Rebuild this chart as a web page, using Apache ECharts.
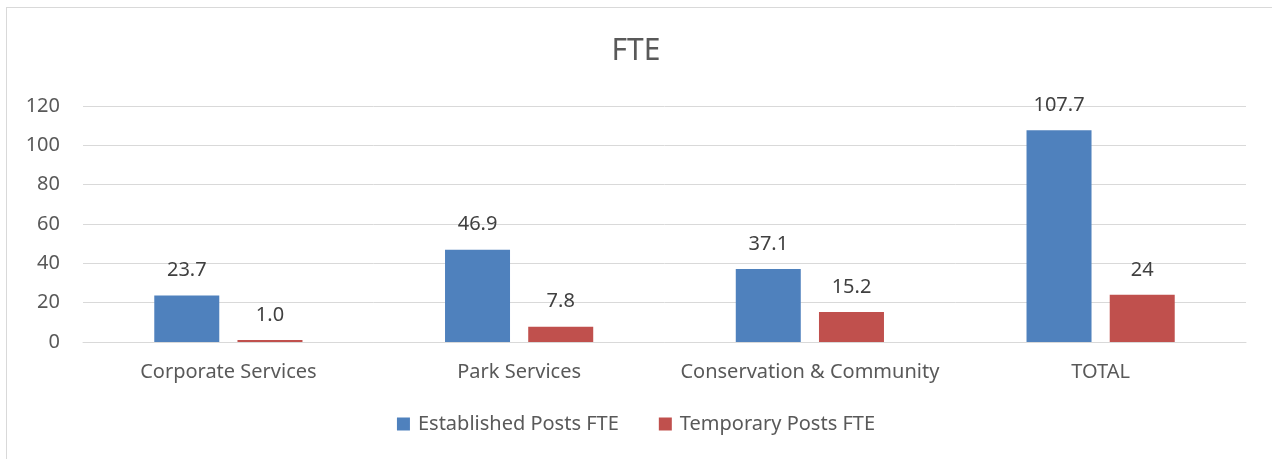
<!DOCTYPE html>
<html lang="en">
<head>
    <meta charset="UTF-8">
    <title>FTE</title>
    <script src="https://cdn.jsdelivr.net/npm/echarts@6/dist/echarts.min.js"></script>
    <style>
        html, body { margin: 0; padding: 0; background: #fff; }
        #frame { position: absolute; left: 6px; top: 7px; width: 1300px; height: 500px; border: 1px solid #d9d9d9; }
        #main { position: absolute; left: 0; top: 0; width: 1272px; height: 459px; }
    </style>
</head>
<body>
<div id="frame"></div>
<div id="main"></div>
<script type="text/javascript">
    const categories = ['Corporate Services', 'Park Services', 'Conservation & Community', 'TOTAL']
    const established = [23.7, 46.9, 37.1, 107.7]
    const temporary = [1.0, 7.8, 15.2, 24]
    const establishedLabels = ['23.7', '46.9', '37.1', '107.7']
    const temporaryLabels = ['1.0', '7.8', '15.2', '24']

    const font = 'Noto Sans'
    const textColor = '#595959'

    let chart = echarts.init(document.getElementById('main'))

    function labelOf(list) {
        return {
            show: true,
            position: 'top',
            distance: 15,
            color: '#404040',
            fontFamily: font,
            fontSize: 20,
            formatter: p => list[p.dataIndex]
        }
    }

    chart.setOption({
        animation: false,
        title: {
            text: 'FTE',
            left: 'center',
            top: 31,
            textStyle: { fontFamily: font, fontSize: 30, fontWeight: 'normal', color: textColor }
        },
        legend: {
            bottom: 20,
            left: 'center',
            itemWidth: 13,
            itemHeight: 13,
            itemGap: 40,
            icon: 'rect',
            textStyle: { fontFamily: font, fontSize: 20, color: textColor, padding: [0, 0, 0, 3] }
        },
        grid: { left: 83, right: 26, top: 106, bottom: 117 },
        xAxis: {
            type: 'category',
            data: categories,
            axisLine: { lineStyle: { color: '#d9d9d9', width: 1 } },
            axisTick: { show: false },
            axisLabel: { fontFamily: font, fontSize: 20, color: textColor, margin: 20, interval: 0 }
        },
        yAxis: {
            type: 'value',
            min: 0,
            max: 120,
            interval: 20,
            axisLine: { show: false },
            axisTick: { show: false },
            splitLine: { lineStyle: { color: '#d9d9d9', width: 1 } },
            axisLabel: { fontFamily: font, fontSize: 20, color: textColor, margin: 23 }
        },
        series: [
            {
                name: 'Established Posts FTE',
                type: 'bar',
                data: established,
                barWidth: 65,
                barGap: '28%',
                itemStyle: { color: '#4f81bd' },
                label: labelOf(establishedLabels)
            },
            {
                name: 'Temporary Posts FTE',
                type: 'bar',
                data: temporary,
                barWidth: 65,
                itemStyle: { color: '#c0504d' },
                label: labelOf(temporaryLabels)
            }
        ]
    })
</script>
</body>
</html>
